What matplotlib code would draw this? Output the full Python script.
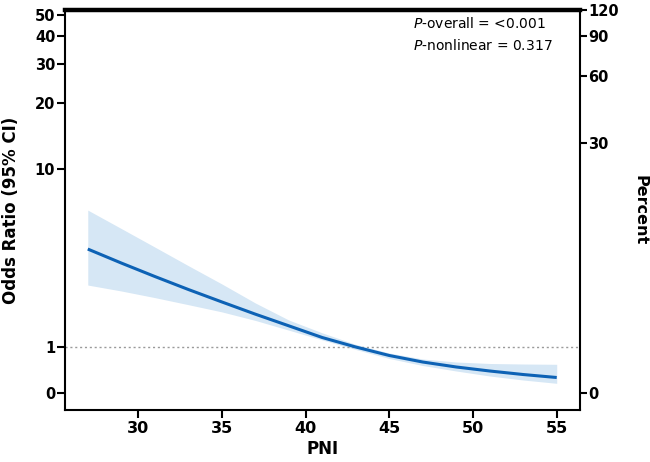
import numpy as np
import matplotlib
matplotlib.use("Agg")
import matplotlib.pyplot as plt
from matplotlib.scale import FuncScale

# ---------------- data ----------------
pni = [27, 29, 31, 33, 35, 37, 39, 41, 43, 45, 47, 49, 51, 53, 55]
or_fit = [4.11, 3.47, 2.93, 2.47, 2.08, 1.74, 1.45, 1.19, 1.00, 0.760, 0.595, 0.480, 0.393, 0.321, 0.263]
or_upper = [6.42, 5.22, 4.21, 3.36, 2.66, 2.05, 1.59, 1.29, 1.05, 0.827, 0.669, 0.595, 0.560, 0.548, 0.541]
or_lower = [2.62, 2.42, 2.21, 2.00, 1.80, 1.58, 1.35, 1.14, 0.926, 0.682, 0.513, 0.393, 0.292, 0.216, 0.157]

x_ticks = [30, 35, 40, 45, 50, 55]
or_ticks = [0, 1, 10, 20, 30, 40, 50]
pct_ticks = [0, 30, 60, 90, 120]
p_overall = "<0.001"
p_nonlinear = "0.317"

# ---------------- axis scale definitions (tick spacing of the original) ----------------
OR_SCALE_OFFS = [0, 46, 224, 290, 329, 357, 378]
PCT_SCALE_OFFS = [0, 250, 317, 357, 383]
BOTTOM_OFF, TOP_OFF = -17, 383


def interp_ext(x, xp, fp):
    x = np.asarray(x, dtype=float)
    shp = x.shape
    x = np.atleast_1d(x).ravel()
    xp = np.asarray(xp, float)
    fp = np.asarray(fp, float)
    y = np.interp(x, xp, fp)
    lo = x < xp[0]
    y[lo] = fp[0] + (x[lo] - xp[0]) * (fp[1] - fp[0]) / (xp[1] - xp[0])
    hi = x > xp[-1]
    y[hi] = fp[-1] + (x[hi] - xp[-1]) * (fp[-1] - fp[-2]) / (xp[-1] - xp[-2])
    return y.reshape(shp)


def make_funcs(ticks, offs):
    u = np.log10(np.asarray(ticks, float) + 1)

    def fwd(v):
        v = np.asarray(v, float)
        uu = np.log10(np.clip(v, -0.999, None) + 1)
        return interp_ext(uu, u, offs)

    def inv(o):
        return 10 ** interp_ext(o, offs, u) - 1

    return fwd, inv


or_fwd, or_inv = make_funcs(or_ticks, OR_SCALE_OFFS)
pct_fwd, pct_inv = make_funcs(pct_ticks, PCT_SCALE_OFFS)

plt.rcParams['font.family'] = ['DejaVu Sans']

fig = plt.figure(figsize=(6.5, 4.62), dpi=100)
ax = fig.add_axes([65 / 650, 52 / 462, 515 / 650, 400 / 462])

ax.set_yscale(FuncScale(ax, (or_fwd, or_inv)))
ax.set_ylim(float(or_inv(BOTTOM_OFF)), float(or_inv(TOP_OFF)))
ax.set_xlim(25.64, 56.39)

line_col = '#0d62b5'
band_col = '#d6e7f5'

ax.fill_between(pni, or_lower, or_upper, color=band_col, lw=0, zorder=1)
ax.plot(pni, or_fit, color=line_col, lw=2.2, zorder=3, solid_capstyle='butt',
        solid_joinstyle='round')
ax.axhline(1, color='#9a9a9a', lw=1.0, ls=(0, (1.5, 2)), zorder=2)

ax.set_xticks(x_ticks)
ax.set_xticklabels([str(t) for t in x_ticks], fontsize=11.5, fontweight='bold')
ax.set_yticks(or_ticks)
ax.set_yticklabels([str(t) for t in or_ticks], fontsize=10.5, fontweight='bold')
ax.yaxis.set_minor_locator(matplotlib.ticker.NullLocator())
ax.tick_params(axis='both', direction='out', length=6, width=1.5, color='black')
ax.tick_params(axis='y', pad=1)
ax.tick_params(axis='x', pad=2)

for s in ['left', 'bottom']:
    ax.spines[s].set_linewidth(1.5)
ax.spines['top'].set_linewidth(3.2)
ax.spines['right'].set_visible(False)

ax.set_xlabel('PNI', fontsize=12, fontweight='bold', labelpad=3)
ax.set_ylabel('Odds Ratio (95% CI)', fontsize=12, fontweight='bold')
ax.yaxis.set_label_coords(-0.087, 0.5)

ax2 = ax.twinx()
ax2.set_yscale(FuncScale(ax2, (pct_fwd, pct_inv)))
ax2.set_ylim(float(pct_inv(BOTTOM_OFF)), float(pct_inv(TOP_OFF)))
ax2.set_yticks(pct_ticks)
ax2.set_yticklabels([str(t) for t in pct_ticks], fontsize=10.5, fontweight='bold')
ax2.yaxis.set_minor_locator(matplotlib.ticker.NullLocator())
ax2.tick_params(axis='y', direction='out', length=5, width=1.5, pad=1)
for s in ['left', 'bottom', 'top']:
    ax2.spines[s].set_visible(False)
ax2.spines['right'].set_linewidth(1.5)
ax2.set_ylabel('Percent', fontsize=11.5, fontweight='bold', rotation=270, va='center')
ax2.yaxis.set_label_coords(1.1165, 0.5)

ax.text(0.676, 0.965, r'$\mathit{P}$-overall = ' + p_overall, transform=ax.transAxes,
        fontsize=10, ha='left', va='center')
ax.text(0.676, 0.91, r'$\mathit{P}$-nonlinear = ' + p_nonlinear, transform=ax.transAxes,
        fontsize=10, ha='left', va='center')

fig.savefig('out.png', dpi=100)
